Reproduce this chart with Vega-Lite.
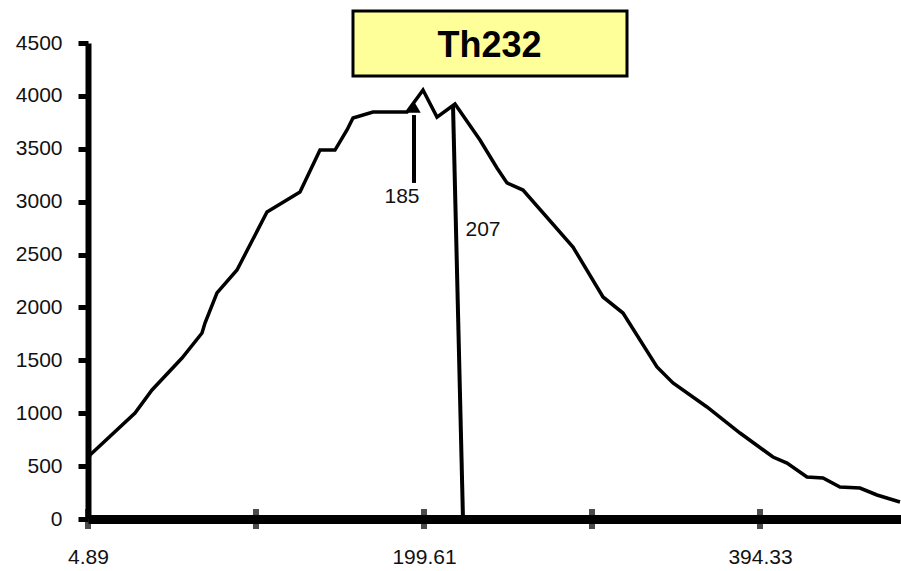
{
  "$schema": "https://vega.github.io/schema/vega-lite/v6.json",
  "width": 813,
  "height": 476,
  "autosize": "none",
  "padding": {"left": 88, "top": 43, "right": 0, "bottom": 52},
  "background": "white",
  "config": {"view": {"stroke": null}, "font": "Liberation Sans"},
  "datasets": {
    "curve": [
      {"x": 4.89, "y": 558}, {"x": 6.05, "y": 605}, {"x": 32.13, "y": 1002}, {"x": 41.98, "y": 1220},
      {"x": 59.37, "y": 1522}, {"x": 70.96, "y": 1758}, {"x": 72.69, "y": 1853}, {"x": 79.65, "y": 2137},
      {"x": 91.24, "y": 2354}, {"x": 108.62, "y": 2902}, {"x": 127.75, "y": 3091}, {"x": 139.34, "y": 3488},
      {"x": 148.03, "y": 3488}, {"x": 154.99, "y": 3678}, {"x": 158.46, "y": 3791}, {"x": 170.05, "y": 3848},
      {"x": 189.76, "y": 3848}, {"x": 199.03, "y": 4056}, {"x": 207.15, "y": 3800}, {"x": 217.58, "y": 3923},
      {"x": 232.06, "y": 3583}, {"x": 241.92, "y": 3318}, {"x": 247.71, "y": 3177}, {"x": 256.98, "y": 3110},
      {"x": 285.96, "y": 2571}, {"x": 303.35, "y": 2099}, {"x": 314.93, "y": 1947}, {"x": 334.64, "y": 1437},
      {"x": 343.91, "y": 1286}, {"x": 363.61, "y": 1059}, {"x": 382.74, "y": 813}, {"x": 401.86, "y": 586},
      {"x": 409.98, "y": 529}, {"x": 421.57, "y": 397}, {"x": 430.84, "y": 388}, {"x": 440.69, "y": 303},
      {"x": 452.28, "y": 293}, {"x": 462.13, "y": 227}, {"x": 475.46, "y": 161}
    ],
    "xticks": [
      {"x": 4.89}, {"x": 102.25}, {"x": 199.61}, {"x": 296.97}, {"x": 394.33}
    ],
    "pointers": [
      {"label": "185", "x": 193.81, "x2": 193.81, "y": 3819, "y2": 3177, "lx": 186.86, "ly": 3044, "ay": 3895},
      {"label": "207", "x": 216.42, "x2": 222.21, "y": 3914, "y2": 0, "lx": 233.8, "ly": 2732}
    ],
    "titlebox": [
      {"label": "Th232", "x": 158.46, "x2": 317.26, "y": 4188, "y2": 4803, "tx": 237.57, "ty": 4476}
    ]
  },
  "layer": [
    {
      "data": {"name": "curve"},
      "mark": {"type": "line", "color": "black", "strokeWidth": 3.5, "strokeJoin": "miter"},
      "encoding": {
        "x": {
          "field": "x", "type": "quantitative",
          "scale": {"domain": [4.89, 476.05], "nice": false, "zero": false},
          "axis": {
            "values": [4.89, 199.61, 394.33],
            "format": ".2f",
            "ticks": false,
            "grid": false,
            "title": null,
            "domainColor": "black",
            "domainWidth": 9,
            "labelFontSize": 21,
            "labelColor": "#111",
            "labelPadding": 27,
            "labelFlush": false,
            "labelOverlap": false
          }
        },
        "y": {
          "field": "y", "type": "quantitative",
          "scale": {"domain": [0, 4500], "nice": false},
          "axis": {
            "values": [0, 500, 1000, 1500, 2000, 2500, 3000, 3500, 4000, 4500],
            "format": "d",
            "grid": false,
            "title": null,
            "domainColor": "black",
            "domainWidth": 6,
            "tickColor": "black",
            "tickSize": 10,
            "tickWidth": 5,
            "labelFontSize": 21,
            "labelColor": "#111",
            "labelPadding": 16,
            "labelFlush": false,
            "labelOverlap": false
          }
        }
      }
    },
    {
      "data": {"name": "xticks"},
      "mark": {"type": "tick", "color": "black", "size": 20, "thickness": 6, "orient": "vertical"},
      "encoding": {
        "x": {"field": "x", "type": "quantitative"},
        "y": {"datum": 0, "type": "quantitative"}
      }
    },
    {
      "data": {"name": "pointers"},
      "mark": {"type": "rule", "color": "black", "strokeWidth": 4},
      "encoding": {
        "x": {"field": "x", "type": "quantitative"},
        "x2": {"field": "x2"},
        "y": {"field": "y", "type": "quantitative"},
        "y2": {"field": "y2"}
      }
    },
    {
      "data": {"name": "pointers"},
      "transform": [{"filter": "datum.label == '185'"}],
      "mark": {"type": "point", "shape": "triangle-up", "filled": true, "color": "black", "size": 180, "opacity": 1},
      "encoding": {
        "x": {"field": "x", "type": "quantitative"},
        "y": {"field": "ay", "type": "quantitative"}
      }
    },
    {
      "data": {"name": "pointers"},
      "mark": {"type": "text", "fontSize": 21, "color": "#111", "align": "center", "baseline": "middle"},
      "encoding": {
        "x": {"field": "lx", "type": "quantitative"},
        "y": {"field": "ly", "type": "quantitative"},
        "text": {"field": "label"}
      }
    },
    {
      "data": {"name": "titlebox"},
      "mark": {"type": "rect", "fill": "#FFFF99", "stroke": "black", "strokeWidth": 3},
      "encoding": {
        "x": {"field": "x", "type": "quantitative"},
        "x2": {"field": "x2"},
        "y": {"field": "y", "type": "quantitative"},
        "y2": {"field": "y2"}
      }
    },
    {
      "data": {"name": "titlebox"},
      "mark": {"type": "text", "fontSize": 36, "fontWeight": "bold", "color": "black", "align": "center", "baseline": "middle"},
      "encoding": {
        "x": {"field": "tx", "type": "quantitative"},
        "y": {"field": "ty", "type": "quantitative"},
        "text": {"field": "label"}
      }
    }
  ]
}
